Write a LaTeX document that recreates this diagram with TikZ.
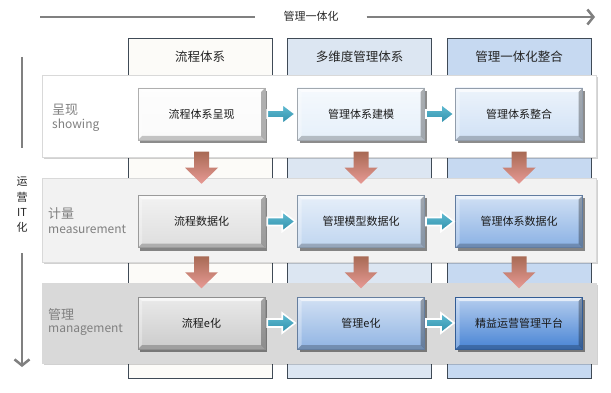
\documentclass[tikz,border=0pt]{standalone}
\usepackage{fontspec}
\setmainfont{Noto Sans CJK SC}
\usetikzlibrary{shadows,calc,arrows.meta}
\definecolor{colA}{HTML}{FCFBF8}
\definecolor{colB}{HTML}{DCE6F2}
\definecolor{colC}{HTML}{C6D9F1}
\definecolor{colEdge}{HTML}{3F4A56}
\definecolor{bandA}{HTML}{FFFFFF}
\definecolor{bandB}{HTML}{F2F2F2}
\definecolor{bandC}{HTML}{D9D9D9}
\definecolor{bxAa}{HTML}{FAFAFA}
\definecolor{bxAb}{HTML}{E6F0FA}
\definecolor{bxAc}{HTML}{D0E1F5}
\definecolor{bxBa}{HTML}{DEDEDE}
\definecolor{bxBb}{HTML}{C0D6F0}
\definecolor{bxBc}{HTML}{8AB1E4}
\definecolor{bxCa}{HTML}{CBCBCB}
\definecolor{bxCb}{HTML}{90B4E3}
\definecolor{bxCc}{HTML}{4884D5}
\definecolor{labGray}{HTML}{808080}
\definecolor{lineGray}{HTML}{808080}
\definecolor{dnTop}{HTML}{A86A55}
\definecolor{dnBot}{HTML}{E89A94}
\definecolor{tealTop}{HTML}{62BDD4}
\definecolor{tealBot}{HTML}{2F8FAA}
\tikzset{
  col/.style={minimum width=144pt, minimum height=340pt, inner sep=0pt, fill=#1, draw=colEdge, line width=0.6pt},
  colhead/.style={font=\fontsize{12.5}{14}\selectfont, text=black!85},
  band/.style={minimum width=554pt, inner sep=0pt, fill=#1, draw=black!15, line width=0.5pt,
    drop shadow={shadow xshift=2pt, shadow yshift=-2pt, fill=black, opacity=0.18}},
  bbox/.style={minimum width=127pt, minimum height=52pt, inner sep=0pt,
    font=\fontsize{11}{13}\selectfont, text=black!90,
    top color=#1!40!white, bottom color=#1, draw=#1!70!black, line width=0.4pt,
    drop shadow={shadow xshift=2pt, shadow yshift=-3pt, fill=black, opacity=0.45},
    path picture={
      \fill[white,opacity=0.65] (path picture bounding box.north west) -- (path picture bounding box.north east)
        -- ([xshift=-4pt,yshift=-4pt]path picture bounding box.north east) -- ([xshift=4pt,yshift=-4pt]path picture bounding box.north west) -- cycle;
      \fill[white,opacity=0.3] (path picture bounding box.north west) -- ([xshift=4pt,yshift=-4pt]path picture bounding box.north west)
        -- ([xshift=4pt,yshift=4pt]path picture bounding box.south west) -- (path picture bounding box.south west) -- cycle;
      \fill[black,opacity=0.3] (path picture bounding box.north east) -- (path picture bounding box.south east)
        -- ([xshift=-4pt,yshift=4pt]path picture bounding box.south east) -- ([xshift=-4pt,yshift=-4pt]path picture bounding box.north east) -- cycle;
      \fill[black,opacity=0.22] (path picture bounding box.south west) -- (path picture bounding box.south east)
        -- ([xshift=-4pt,yshift=4pt]path picture bounding box.south east) -- ([xshift=4pt,yshift=4pt]path picture bounding box.south west) -- cycle;
    }},
  labcn/.style={anchor=west, font=\fontsize{13}{15}\selectfont, text=labGray, inner sep=2pt},
  laben/.style={anchor=west, font=\fontsize{12}{14}\selectfont, text=labGray, inner sep=2pt},
  gline/.style={draw=lineGray, line width=2.5pt},
  gtip/.style={-{Straight Barb[length=6pt,width=15pt,line width=2.5pt]}},
  rarr/.pic={\draw[white, line width=1.6pt, top color=tealTop, bottom color=tealBot]
      (-14,-4) -- (1,-4) -- (1,-10) -- (14,0) -- (1,10) -- (1,4) -- (-14,4) -- cycle;},
  darr/.pic={\shade[top color=dnTop, bottom color=dnBot]
      (-7.5,-16) -- (7.5,-16) -- (7.5,0) -- (16.5,0) -- (0,16) -- (-16.5,0) -- (-7.5,0) -- cycle;}
}
\begin{document}
\begin{tikzpicture}[x=1pt,y=-1pt]
\useasboundingbox[fill=white] (0,0) rectangle (611,393);
% top arrow
\coordinate (ts) at (40,17);
\coordinate (te) at (595,17);
\node[font=\fontsize{11}{13}\selectfont, text=black!85, inner xsep=28pt, inner ysep=0pt] (tt) at (311,16) {管理一体化};
\draw[gline] (ts) -- (tt.west |- ts);
\draw[gline, gtip] (tt.east |- ts) -- (te);
% left arrow
\coordinate (vt) at (22,57);
\coordinate (vb) at (22,367);
\node[font=\fontsize{11}{15.3}\selectfont, align=center, text=black!85, minimum height=105pt, inner sep=0pt] (lv) at (22,205) {运\\营\\IT\\化};
\draw[gline] (vt) -- ([yshift=4.5pt]lv.north);
\draw[gline, gtip] ([yshift=4.5pt]lv.south) -- (vb);
% columns
\node[col=colA] (c1) at (200,208) {};
\node[col=colB] (c2) at (359.5,208) {};
\node[col=colC] (c3) at (519,208) {};
\node[colhead] (h1) at (200,57) {流程体系};
\node[colhead] (h2) at (359.5,57) {多维度管理体系};
\node[colhead] (h3) at (519,57) {管理一体化整合};
% bands
\node[band=bandA, minimum height=82pt] (r1) at (319,116) {};
\node[band=bandB, minimum height=84pt] (r2) at (319,220) {};
\node[band=bandC, minimum height=80pt] (r3) at (319,323) {};
% row labels
\node[labcn] (l1a) at (50,110) {呈现};
\node[laben] (l1b) at (50,125) {showing};
\node[labcn] (l2a) at (46,214) {计量};
\node[laben] (l2b) at (46,229) {measurement};
\node[labcn] (l3a) at (46,315) {管理};
\node[laben] (l3b) at (46,330) {management};
% boxes
\node[bbox=bxAa] (b11) at (201.5,114) {流程体系呈现};
\node[bbox=bxAb] (b12) at (361,114) {管理体系建模};
\node[bbox=bxAc] (b13) at (519,114) {管理体系整合};
\node[bbox=bxBa] (b21) at (201.5,221.5) {流程数据化};
\node[bbox=bxBb] (b22) at (361,221.5) {管理模型数据化};
\node[bbox=bxBc] (b23) at (519,221.5) {管理体系数据化};
\node[bbox=bxCa] (b31) at (201.5,323) {流程e化};
\node[bbox=bxCb] (b32) at (361,323) {管理e化};
\node[bbox=bxCc] (b33) at (519,323) {精益运营管理平台};
% right arrows
\pic at ($(b11.east)!.5!(b12.west)$) {rarr};
\pic at ($(b12.east)!.5!(b13.west)$) {rarr};
\pic at ($(b21.east)!.5!(b22.west)$) {rarr};
\pic at ($(b22.east)!.5!(b23.west)$) {rarr};
\pic at ($(b31.east)!.5!(b32.west)$) {rarr};
\pic at ($(b32.east)!.5!(b33.west)$) {rarr};
% down arrows
\pic at ($(b11.south)!.5!(b21.north)$) {darr};
\pic at ($(b12.south)!.5!(b22.north)$) {darr};
\pic at ($(b13.south)!.5!(b23.north)$) {darr};
\pic at ($(b21.south)!.5!(b31.north)$) {darr};
\pic at ($(b22.south)!.5!(b32.north)$) {darr};
\pic at ($(b23.south)!.5!(b33.north)$) {darr};
\end{tikzpicture}
\end{document}
